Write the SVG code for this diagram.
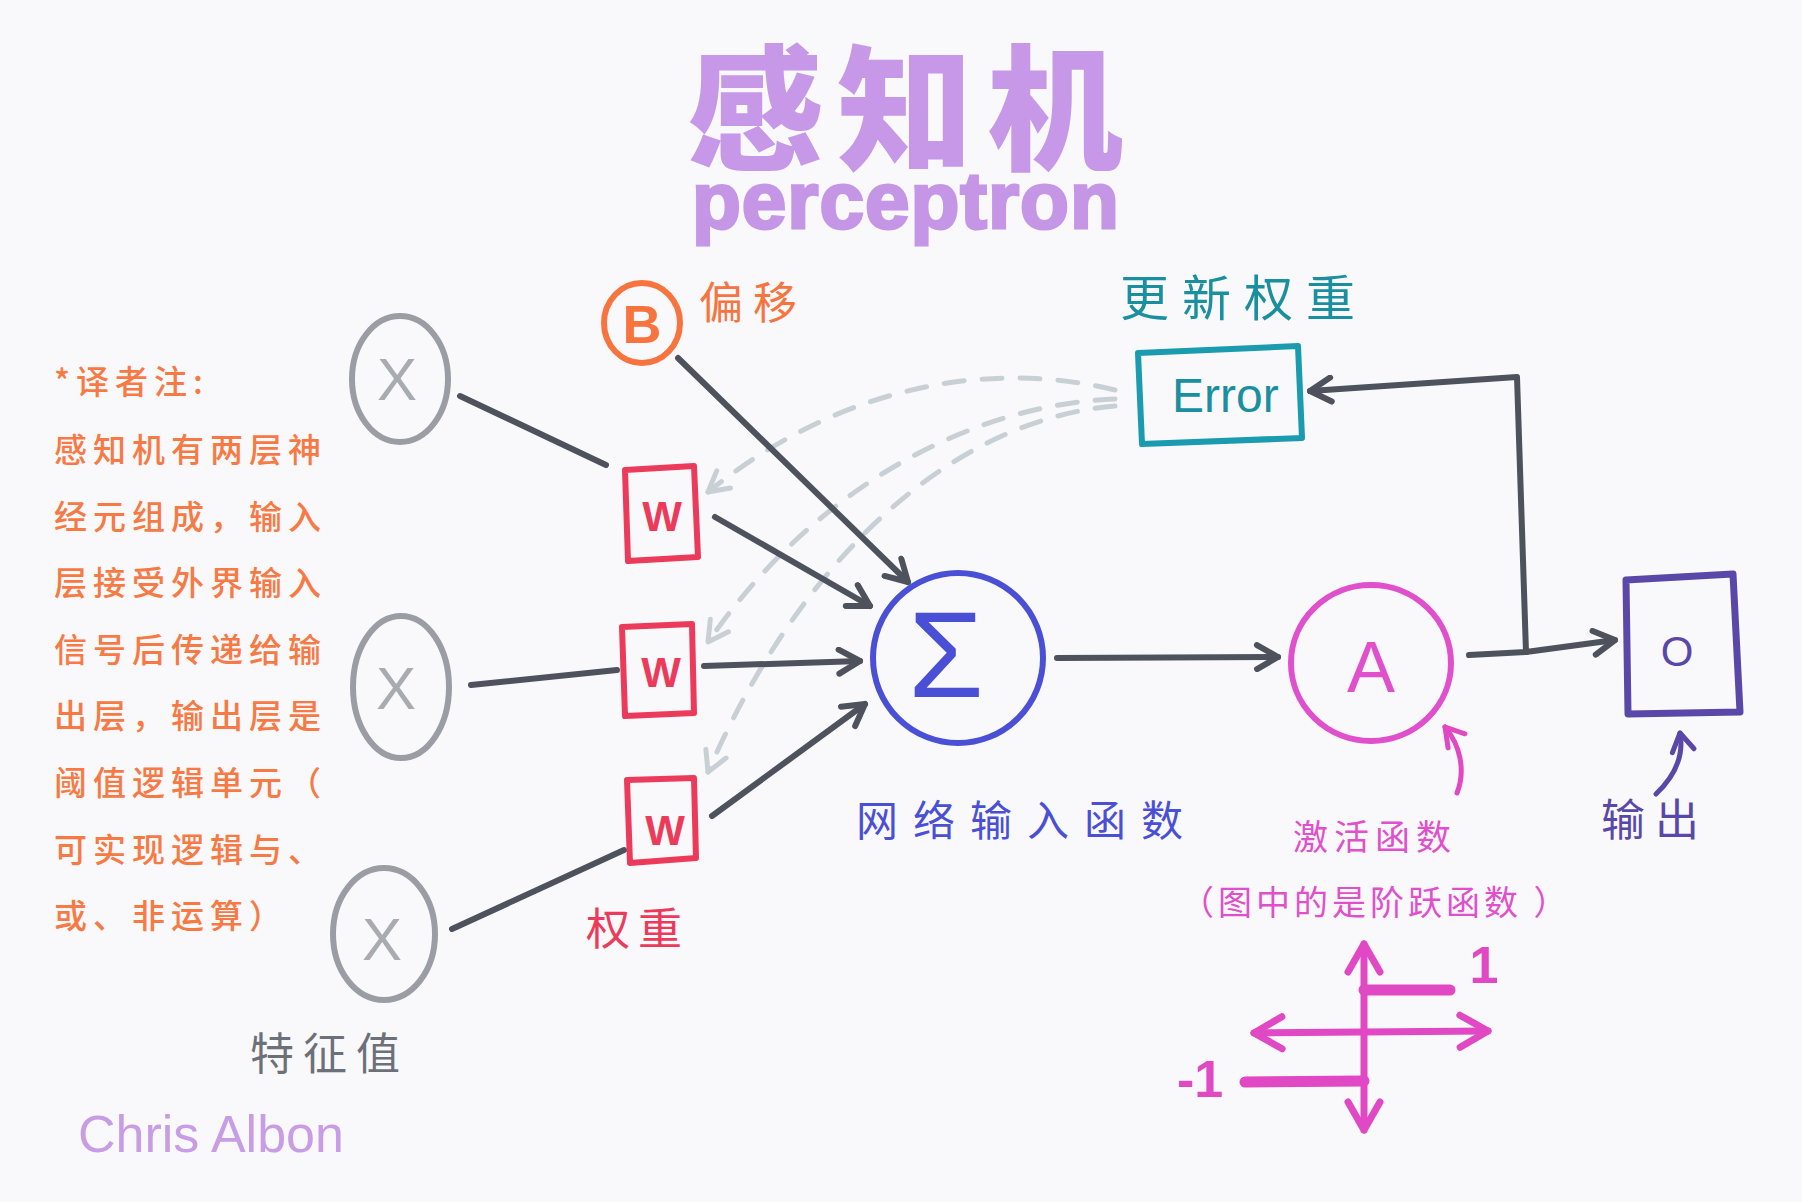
<svg xmlns="http://www.w3.org/2000/svg" width="1802" height="1202" viewBox="0 0 1802 1202">
<defs>
<style>
.cjk{font-family:'Noto Sans CJK SC','Noto Sans',sans-serif;}
.lat{font-family:'Liberation Sans',Arial,sans-serif;}
.note{font-family:'Noto Sans CJK SC',sans-serif;font-size:33px;font-weight:500;fill:#f77a45;letter-spacing:6px;}
.conn{fill:none;stroke:#4d525c;stroke-width:6;stroke-linecap:round;stroke-linejoin:round;}
.dash{fill:none;stroke:#c9d0d5;stroke-width:5;stroke-linecap:round;stroke-dasharray:20 18;}
.xnode{fill:none;stroke:#9a9ea4;stroke-width:6;}
.xlab{font-family:'Liberation Sans',Arial,sans-serif;font-size:60px;fill:#a8acb1;text-anchor:middle;}
.wbox{fill:none;stroke:#ec3b5a;stroke-width:6;stroke-linejoin:round;}
.wlab{font-family:'Liberation Sans',Arial,sans-serif;font-size:42px;font-weight:bold;fill:#ec3b5a;text-anchor:middle;}
.step{fill:none;stroke:#e048c4;stroke-width:7;stroke-linecap:round;}
</style>
<marker id="arr" viewBox="0 0 30 30" refX="26" refY="15" markerWidth="30" markerHeight="30" markerUnits="userSpaceOnUse" orient="auto"><path d="M5,3 L26,15 L5,27" fill="none" stroke="#4d525c" stroke-width="6" stroke-linecap="round" stroke-linejoin="round"/></marker>
<marker id="arrd" viewBox="0 0 30 30" refX="26" refY="15" markerWidth="30" markerHeight="30" markerUnits="userSpaceOnUse" orient="auto"><path d="M6,4 L26,15 L6,26" fill="none" stroke="#c9d0d5" stroke-width="5" stroke-linecap="round" stroke-linejoin="round"/></marker>
<marker id="arrm" viewBox="0 0 30 30" refX="26" refY="15" markerWidth="30" markerHeight="30" markerUnits="userSpaceOnUse" orient="auto"><path d="M8,4 L26,15 L8,26" fill="none" stroke="#e048c4" stroke-width="5" stroke-linecap="round" stroke-linejoin="round"/></marker>
<marker id="arrp" viewBox="0 0 30 30" refX="26" refY="15" markerWidth="30" markerHeight="30" markerUnits="userSpaceOnUse" orient="auto"><path d="M8,4 L26,15 L8,26" fill="none" stroke="#5a48a8" stroke-width="5" stroke-linecap="round" stroke-linejoin="round"/></marker>
<marker id="arrs" viewBox="0 0 40 40" refX="36" refY="20" markerWidth="40" markerHeight="40" markerUnits="userSpaceOnUse" orient="auto-start-reverse"><path d="M8,4 L36,20 L8,36" fill="none" stroke="#e048c4" stroke-width="7" stroke-linecap="round" stroke-linejoin="round"/></marker>
</defs>
<rect x="0" y="0" width="1802" height="1202" fill="#f9f9fb"/>

<g id="title">
<text class="cjk" x="912" y="160" font-size="136" font-weight="900" fill="#c898e8" text-anchor="middle" letter-spacing="14">感知机</text>
<text class="lat" x="692" y="228" font-size="80" font-weight="bold" fill="#c596e6" stroke="#c596e6" stroke-width="3" letter-spacing="1">perceptron</text>
</g>

<g id="note">
<text class="note" x="54" y="394">*译者注:</text>
<text class="note" x="54" y="462">感知机有两层神</text>
<text class="note" x="54" y="529">经元组成，输入</text>
<text class="note" x="54" y="595">层接受外界输入</text>
<text class="note" x="54" y="662">信号后传递给输</text>
<text class="note" x="54" y="728">出层，输出层是</text>
<text class="note" x="54" y="795">阈值逻辑单元（</text>
<text class="note" x="54" y="862">可实现逻辑与、</text>
<text class="note" x="54" y="928">或、非运算）</text>
</g>

<g id="connectors">
<path class="dash" d="M1115,390 C1000,362 850,378 708,492" marker-end="url(#arrd)"/>
<path class="dash" d="M1115,399 C980,404 820,480 708,642" marker-end="url(#arrd)"/>
<path class="dash" d="M1115,406 C950,420 800,560 708,772" marker-end="url(#arrd)"/>
<path class="conn" d="M460,396 L606,465"/>
<path class="conn" d="M715,517 L870,606" marker-end="url(#arr)"/>
<path class="conn" d="M678,358 L908,582" marker-end="url(#arr)"/>
<path class="conn" d="M471,685 L617,670"/>
<path class="conn" d="M704,666 L860,661" marker-end="url(#arr)"/>
<path class="conn" d="M452,929 L624,850"/>
<path class="conn" d="M712,816 L865,704" marker-end="url(#arr)"/>
<path class="conn" d="M1057,658 L1278,657" marker-end="url(#arr)"/>
<path class="conn" d="M1469,655 L1526,652 L1615,640" marker-end="url(#arr)"/>
<path class="conn" d="M1526,652 L1517,377 L1310,391" marker-end="url(#arr)"/>
<path d="M1457,793 C1466,770 1460,745 1445,727" fill="none" stroke="#e048c4" stroke-width="5" stroke-linecap="round" marker-end="url(#arrm)"/>
<path d="M1656,794 C1676,775 1684,755 1680,733" fill="none" stroke="#5a48a8" stroke-width="5" stroke-linecap="round" marker-end="url(#arrp)"/>
</g>

<g id="x1"><ellipse class="xnode" cx="400" cy="379" rx="48" ry="63"/><text class="xlab" x="397" y="400">X</text></g>
<g id="x2"><ellipse class="xnode" cx="401" cy="687" rx="48" ry="71"/><text class="xlab" x="396" y="709">X</text></g>
<g id="x3"><ellipse class="xnode" cx="384" cy="934" rx="51" ry="66"/><text class="xlab" x="382" y="960">X</text></g>
<g id="features"><text class="cjk" x="250" y="1070" font-size="44" fill="#6c7179" letter-spacing="9">特征值</text></g>

<g id="bias">
<ellipse cx="642" cy="323" rx="38" ry="40" fill="none" stroke="#f7743f" stroke-width="6"/>
<text class="lat" x="642" y="343" font-size="54" font-weight="bold" fill="#f7743f" text-anchor="middle">B</text>
<text class="cjk" x="699" y="319" font-size="44" fill="#f7743f" letter-spacing="10">偏移</text>
</g>

<g id="w1"><polygon class="wbox" points="625,470 694,466 698,557 628,561"/><text class="wlab" x="662" y="531">W</text></g>
<g id="w2"><polygon class="wbox" points="622,627 692,624 694,713 625,716"/><text class="wlab" x="661" y="687">W</text></g>
<g id="w3"><polygon class="wbox" points="627,780 694,778 696,858 630,863"/><text class="wlab" x="665" y="845" font-size="50">W</text></g>
<g id="weights"><text class="cjk" x="586" y="945" font-size="44" fill="#ec3b5a" letter-spacing="8">权重</text></g>

<g id="sum">
<circle cx="958" cy="658" r="85" fill="none" stroke="#4a50d6" stroke-width="6"/>
<text class="lat" x="946" y="697" font-size="122" fill="#4a50d6" text-anchor="middle">Σ</text>
<text class="cjk" x="856" y="836" font-size="42" fill="#4a50d6" letter-spacing="15">网络输入函数</text>
</g>

<g id="activation">
<ellipse cx="1371" cy="663" rx="80" ry="78" fill="none" stroke="#e050cc" stroke-width="6"/>
<text class="lat" x="1371" y="692" font-size="72" fill="#e050cc" text-anchor="middle">A</text>
<text class="cjk" x="1293" y="850" font-size="35" fill="#e050cc" letter-spacing="6">激活函数</text>
<text class="cjk" x="1180" y="915" font-size="34" fill="#e050cc" letter-spacing="4">（图中的是阶跃函数 ）</text>
</g>

<g id="output">
<polygon points="1626,580 1733,574 1740,712 1628,714" fill="none" stroke="#5a48a8" stroke-width="7" stroke-linejoin="round"/>
<text class="lat" x="1677" y="666" font-size="42" fill="#5a48a8" text-anchor="middle">O</text>
<text class="cjk" x="1601" y="836" font-size="44" fill="#5a48a8" letter-spacing="10">输出</text>
</g>

<g id="error">
<polygon points="1138,353 1298,346 1302,438 1142,444" fill="none" stroke="#1a9bb0" stroke-width="6" stroke-linejoin="round"/>
<text class="lat" x="1172" y="412" font-size="48" fill="#1a8fa0">Error</text>
<text class="cjk" x="1120" y="316" font-size="49" fill="#1a8fa0" letter-spacing="13">更新权重</text>
</g>

<g id="stepgraph">
<path class="step" d="M1364,1130 L1364,944" marker-start="url(#arrs)" marker-end="url(#arrs)"/>
<path class="step" d="M1254,1033 L1488,1031" marker-start="url(#arrs)" marker-end="url(#arrs)"/>
<path d="M1364,990 L1450,990" fill="none" stroke="#e048c4" stroke-width="11" stroke-linecap="round"/>
<path d="M1245,1082 L1364,1081" fill="none" stroke="#e048c4" stroke-width="11" stroke-linecap="round"/>
<text class="lat" x="1484" y="983" font-size="52" font-weight="bold" fill="#e048c4" text-anchor="middle">1</text>
<text class="lat" x="1200" y="1097" font-size="52" font-weight="bold" fill="#e048c4" text-anchor="middle">-1</text>
</g>

<g id="signature"><text class="lat" x="78" y="1152" font-size="52" fill="#c89de6">Chris Albon</text></g>
</svg>
